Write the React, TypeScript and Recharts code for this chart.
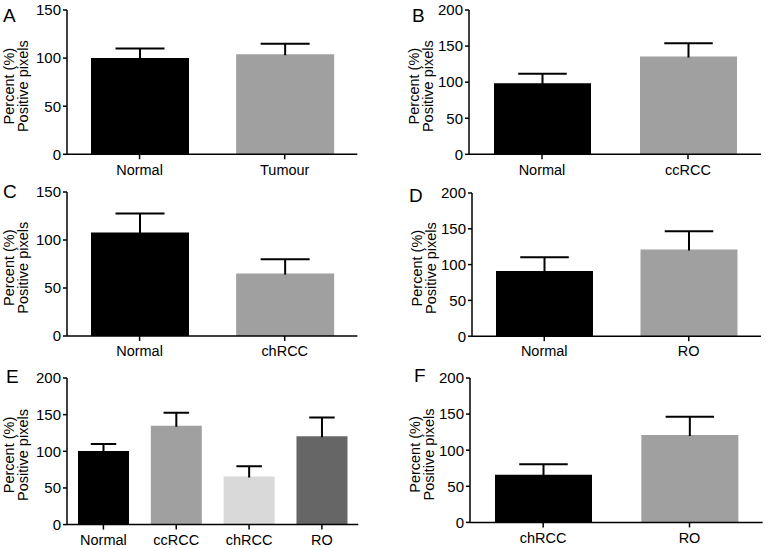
import React from 'react';
import { BarChart, Bar, XAxis, YAxis, Cell } from 'recharts';

// ---- data ----
const categoriesA = ['Normal', 'Tumour'];
const meansA = [100, 104];
const errorsA = [10, 11];

const categoriesB = ['Normal', 'ccRCC'];
const meansB = [98.5, 135.5];
const errorsB = [13, 18.3];

const categoriesC = ['Normal', 'chRCC'];
const meansC = [107.7, 65];
const errorsC = [19.8, 15];

const categoriesD = ['Normal', 'RO'];
const meansD = [91, 121];
const errorsD = [19.3, 25.6];

const categoriesE = ['Normal', 'ccRCC', 'chRCC', 'RO'];
const meansE = [100.5, 135, 65.5, 120.5];
const errorsE = [9.5, 17.7, 14, 25.5];

const categoriesF = ['chRCC', 'RO'];
const meansF = [66, 121];
const errorsF = [14.4, 25.4];

const ticks150 = [0, 50, 100, 150];
const ticks200 = [0, 50, 100, 150, 200];

const FONT = '"Liberation Sans", Arial, Helvetica, sans-serif';
const colors2 = ['#000000', '#a0a0a0'];
const colors4 = ['#000000', '#a0a0a0', '#d9d9d9', '#666666'];

const ML = 70;
const MT = 14;
const MR = 3;
const MB = 40;

const ErrShape = (props: any) => {
  const { x, y, width, height } = props;
  if (x == null || y == null) return null;
  const cx = x + width / 2;
  return (
    <g>
      <line x1={cx} x2={cx} y1={y + height + 1} y2={y} stroke="#000" strokeWidth={2} />
      <line x1={x + width / 4} x2={x + (3 * width) / 4} y1={y} y2={y} stroke="#000" strokeWidth={2} />
    </g>
  );
};

type PanelProps = {
  x0: number; y0: number; w: number; h: number;
  cats: string[]; means: number[]; errs: number[];
  ticks: number[]; colors: string[]; barSize: number;
};

const Panel = ({ x0, y0, w, h, cats, means, errs, ticks, colors, barSize }: PanelProps) => {
  const data = cats.map((c, i) => ({ name: c, value: means[i], err: errs[i] }));
  const max = ticks[ticks.length - 1];
  return (
    <div style={{ position: 'absolute', left: x0 - ML, top: y0 - MT }}>
      <BarChart
        width={w + ML + MR}
        height={h + MT + MB}
        data={data}
        margin={{ top: MT, right: MR, left: 0, bottom: 0 }}
        barSize={barSize}
      >
        <XAxis
          dataKey="name"
          height={MB}
          tickSize={5}
          tickMargin={5}
          axisLine={{ stroke: '#000', strokeWidth: 1.5 }}
          tickLine={{ stroke: '#000', strokeWidth: 1.5 }}
          tick={{ fill: '#000', fontSize: 14.5, fontFamily: FONT }}
          interval={0}
        />
        <YAxis
          width={ML}
          domain={[0, max]}
          ticks={ticks}
          interval={0}
          tickSize={4}
          tickMargin={2}
          axisLine={{ stroke: '#000', strokeWidth: 1.5 }}
          tickLine={{ stroke: '#000', strokeWidth: 1.5 }}
          tick={{ fill: '#000', fontSize: 15, fontFamily: FONT }}
          allowDataOverflow
        />
        <Bar dataKey="value" stackId="s" isAnimationActive={false}>
          {data.map((d, i) => (
            <Cell key={d.name} fill={colors[i]} />
          ))}
        </Bar>
        <Bar dataKey="err" stackId="s" isAnimationActive={false} shape={<ErrShape />} fill="none" />
      </BarChart>
    </div>
  );
};

const panels = [
  { letter: 'A', lx: 3, ly: 22, x0: 66.7, y0: 10, w: 290.3, h: 144.3, cats: categoriesA, means: meansA, errs: errorsA, ticks: ticks150, colors: colors2, barSize: 98, l1: -53, l2: -38.5 },
  { letter: 'B', lx: 412, ly: 22, x0: 469, y0: 10, w: 292, h: 144.3, cats: categoriesB, means: meansB, errs: errorsB, ticks: ticks200, colors: colors2, barSize: 97, l1: -50, l2: -36.5 },
  { letter: 'C', lx: 3, ly: 198, x0: 66.7, y0: 191.7, w: 290.3, h: 144, cats: categoriesC, means: meansC, errs: errorsC, ticks: ticks150, colors: colors2, barSize: 98, l1: -53, l2: -38.5 },
  { letter: 'D', lx: 409, ly: 202, x0: 472, y0: 192.5, w: 289, h: 143.2, cats: categoriesD, means: meansD, errs: errorsD, ticks: ticks200, colors: colors2, barSize: 97, l1: -50, l2: -36.5 },
  { letter: 'E', lx: 6, ly: 383, x0: 66.7, y0: 377.7, w: 291.3, h: 146.6, cats: categoriesE, means: meansE, errs: errorsE, ticks: ticks200, colors: colors4, barSize: 51, l1: -53, l2: -38.5 },
  { letter: 'F', lx: 414, ly: 382, x0: 470.3, y0: 378.3, w: 292.7, h: 144.4, cats: categoriesF, means: meansF, errs: errorsF, ticks: ticks200, colors: colors2, barSize: 97, l1: -50, l2: -36.5 },
];

export default function App() {
  return (
    <div style={{ position: 'absolute', left: 0, top: 0, width: 766, height: 548, background: '#fff', fontFamily: FONT }}>
      {panels.map((p) => (
        <Panel key={p.letter} {...p} />
      ))}
      <svg width={766} height={548} style={{ position: 'absolute', left: 0, top: 0, pointerEvents: 'none' }}>
        {panels.map((p) => {
          const cy = p.y0 + p.h / 2 + 4;
          return (
            <g key={p.letter} fontFamily={FONT} fill="#000">
              <text x={p.lx} y={p.ly} fontSize={19}>{p.letter}</text>
              <text transform={`translate(${p.x0 + p.l1},${cy}) rotate(-90)`} textAnchor="middle" fontSize={14.5}>Percent (%)</text>
              <text transform={`translate(${p.x0 + p.l2},${cy}) rotate(-90)`} textAnchor="middle" fontSize={14.5}>Positive pixels</text>
            </g>
          );
        })}
      </svg>
    </div>
  );
}
